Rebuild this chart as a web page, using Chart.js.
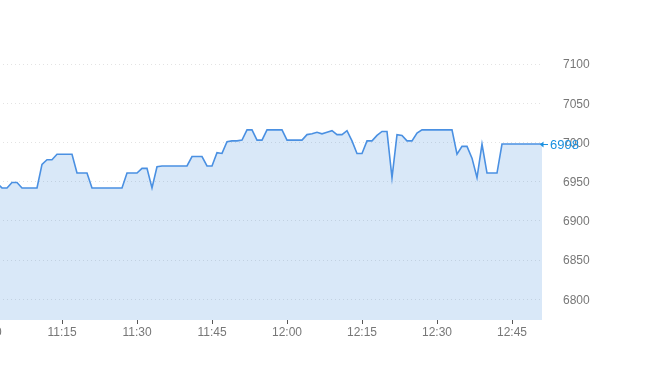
<!DOCTYPE html>
<html>
<head>
<meta charset="utf-8">
<script src="https://cdn.jsdelivr.net/npm/chart.js@4/dist/chart.umd.min.js"></script>
<style>
  html, body { margin: 0; padding: 0; background: #fff; overflow: hidden; }
  #wrap { position: absolute; left: -40px; top: 0; width: 698px; height: 389px; }
</style>
</head>
<body>
<div id="wrap"><canvas id="c"></canvas></div>
<script>
// ---- data ----
const startTime = '11:00';
const pointCount = 112; // one point per minute, 11:00 .. 12:51
const prices = [
  6948,6948,6948,6942,6942,6949,6949,6942,6942,6942,
  6942,6972,6978,6978,6985,6985,6985,6985,6961,6961,
  6961,6942,6942,6942,6942,6942,6942,6942,6961,6961,
  6961,6967,6967,6942,6969,6970,6970,6970,6970,6970,
  6970,6982,6982,6982,6970,6970,6987,6986,7001,7002,
  7002,7003,7016,7016,7003,7003,7016,7016,7016,7016,
  7003,7003,7003,7003,7010,7011,7013,7011,7013,7015,
  7010,7010,7015,7002,6986,6986,7002,7002,7009,7014,
  7014,6955,7010,7009,7002,7002,7012,7016,7016,7016,
  7016,7016,7016,7016,6985,6995,6995,6980,6955,6998,
  6961,6961,6961,6998,6998,6998,6998,6998,6998,6998,
  6998,6998
];
const xTickLabels = ['11:00','11:15','11:30','11:45','12:00','12:15','12:30','12:45'];
const yTickValues = [6800,6850,6900,6950,7000,7050,7100];
const yMin = 6773.6, yMax = 7143.4;

// build minute category labels
const times = [];
{
  const [h0, m0] = startTime.split(':').map(Number);
  for (let i = 0; i < pointCount; i++) {
    const t = h0 * 60 + m0 + i;
    times.push(Math.floor(t / 60) + ':' + String(t % 60).padStart(2, '0'));
  }
}

const FONT = "'Liberation Sans', Arial, Helvetica, sans-serif";

const lastLabel = {
  id: 'lastLabel',
  afterDraw(chart) {
    const meta = chart.getDatasetMeta(0);
    const last = meta.data[meta.data.length - 1];
    const val = prices[prices.length - 1];
    const ctx = chart.ctx;
    const x = last.x, y = last.y;
    ctx.save();
    ctx.strokeStyle = '#1890e0';
    ctx.fillStyle = '#1890e0';
    ctx.lineWidth = 1;
    ctx.beginPath();
    ctx.moveTo(x - 1, y + 0.5);
    ctx.lineTo(x + 6, y + 0.5);
    ctx.stroke();
    ctx.beginPath();
    ctx.moveTo(x - 2, y + 0.5);
    ctx.lineTo(x + 1.5, y - 2.5);
    ctx.lineTo(x + 1.5, y + 3.5);
    ctx.closePath();
    ctx.fill();
    ctx.font = '13px ' + FONT;
    ctx.textBaseline = 'middle';
    ctx.textAlign = 'left';
    ctx.fillText(String(val), x + 8, y + 1.5);
    ctx.restore();
  }
};

new Chart(document.getElementById('c'), {
  type: 'line',
  data: {
    labels: times,
    datasets: [{
      data: prices,
      borderColor: '#4a90e2',
      borderWidth: 1.6,
      backgroundColor: 'rgba(66,139,222,0.2)',
      fill: 'start',
      pointRadius: 0,
      tension: 0
    }]
  },
  options: {
    responsive: true,
    maintainAspectRatio: false,
    animation: false,
    layout: { padding: { left: 27, top: 30, right: 0, bottom: 0 } },
    plugins: { legend: { display: false }, tooltip: { enabled: false } },
    scales: {
      x: {
        type: 'category',
        offset: false,
        border: { display: false },
        grid: { drawOnChartArea: false, drawTicks: true, tickLength: 4, color: '#555' },
        ticks: {
          autoSkip: false,
          maxRotation: 0,
          padding: 1,
          color: '#777',
          font: { family: FONT, size: 12 },
          callback: function (v, i) {
            const lab = times[i];
            return xTickLabels.includes(lab) ? lab : null;
          }
        },
        afterFit: s => { s.height = 69; }
      },
      y: {
        position: 'right',
        min: yMin,
        max: yMax,
        border: { display: false, dash: [1, 3] },
        grid: { drawTicks: false, color: '#e3e3e3' },
        ticks: {
          stepSize: 50,
          includeBounds: false,
          padding: 21,
          labelOffset: 1,
          color: '#777',
          font: { family: FONT, size: 12 },
          callback: v => (yTickValues.includes(v) ? String(v) : null)
        },
        afterFit: s => { s.width = 116; }
      }
    }
  },
  plugins: [lastLabel]
});
</script>
</body>
</html>
